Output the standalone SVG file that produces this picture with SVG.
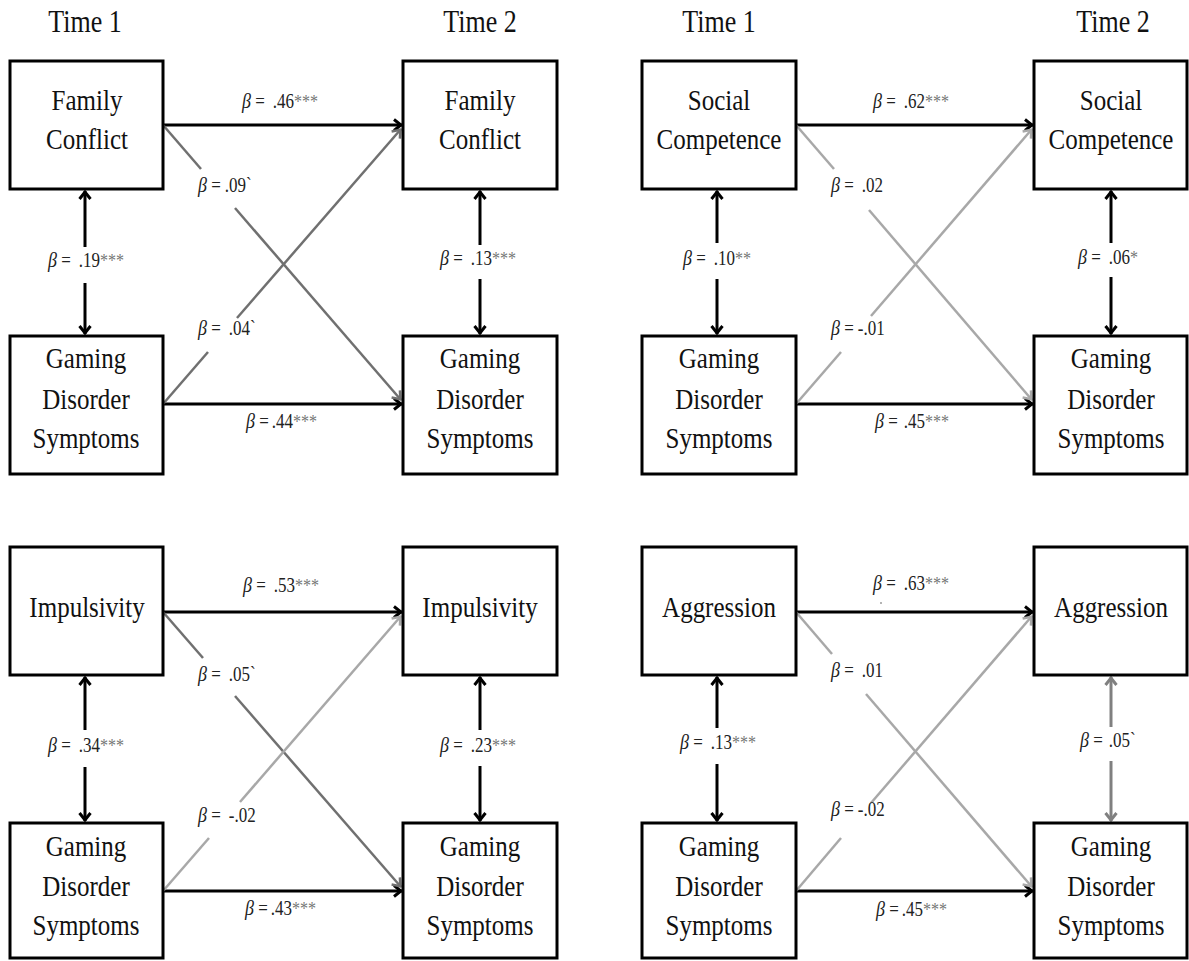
<svg xmlns="http://www.w3.org/2000/svg" width="1189" height="961" viewBox="0 0 1189 961">
  <style>
    .box { fill: #fff; stroke: #000; stroke-width: 3; }
    .nt { font-family: "Liberation Serif", "Times New Roman", serif; font-size: 25px; fill: #111; text-anchor: middle; }
    .hd { font-family: "Liberation Serif", "Times New Roman", serif; font-size: 26px; fill: #111; text-anchor: middle; }
    .lbl { font-family: "Liberation Serif", "Times New Roman", serif; font-size: 17px; fill: #222; }
    .b { font-style: italic; font-size: 18px; }
    .st { fill: #777; font-size: 16px; }
    .arr { stroke: #000; stroke-width: 3; fill: none; marker-end: url(#ah); }
    .seg { stroke-width: 2.5; fill: none; }
    .dk { stroke: #707070; }
    .lt { stroke: #a8a8a8; }
    .dk.end { marker-end: url(#ahd); }
    .lt.end { marker-end: url(#ahl); }
    .mid { stroke: #808080; stroke-width: 3; fill: none; marker-end: url(#ahm); }
  </style>
  <defs>
    <marker id="ah" viewBox="0 0 12 14" refX="11" refY="7" markerWidth="12" markerHeight="14" markerUnits="userSpaceOnUse" orient="auto">
      <path d="M3,1.5 L10,7 L3,12.5" fill="none" stroke="#000" stroke-width="3"/>
    </marker>
    <marker id="ahd" viewBox="0 0 12 14" refX="11" refY="7" markerWidth="12" markerHeight="14" markerUnits="userSpaceOnUse" orient="auto">
      <path d="M3,1.5 L10,7 L3,12.5" fill="none" stroke="#707070" stroke-width="2.5"/>
    </marker>
    <marker id="ahl" viewBox="0 0 12 14" refX="11" refY="7" markerWidth="12" markerHeight="14" markerUnits="userSpaceOnUse" orient="auto">
      <path d="M3,1.5 L10,7 L3,12.5" fill="none" stroke="#a8a8a8" stroke-width="2.5"/>
    </marker>
    <marker id="ahm" viewBox="0 0 12 14" refX="11" refY="7" markerWidth="12" markerHeight="14" markerUnits="userSpaceOnUse" orient="auto">
      <path d="M3,1.5 L10,7 L3,12.5" fill="none" stroke="#808080" stroke-width="3"/>
    </marker>
  </defs>

  <rect width="1189" height="961" fill="#fff"/>

  <!-- column headings -->
  <g id="headings">
    <text class="hd" transform="matrix(1 0 0 1.2 85 32)">Time 1</text>
    <text class="hd" transform="matrix(1 0 0 1.2 480 32)">Time 2</text>
    <text class="hd" transform="matrix(1 0 0 1.2 719 32)">Time 1</text>
    <text class="hd" transform="matrix(1 0 0 1.2 1113 32)">Time 2</text>
  </g>

  <!-- connectors -->
  <g id="connectors">
    <!-- family conflict panel -->
    <line class="arr" x1="163" y1="125" x2="402" y2="125"/>
    <line class="arr" x1="163" y1="404" x2="402" y2="404"/>
    <line class="seg dk" x1="163" y1="125" x2="201" y2="169"/>
    <line class="seg dk end" x1="235" y1="208" x2="401" y2="400"/>
    <line class="seg dk" x1="163" y1="404" x2="208" y2="352"/>
    <line class="seg dk end" x1="237" y1="318" x2="401" y2="129"/>
    <line class="arr" x1="85" y1="247" x2="85" y2="191"/>
    <line class="arr" x1="85" y1="283" x2="85" y2="334"/>
    <line class="arr" x1="480" y1="245" x2="480" y2="191"/>
    <line class="arr" x1="480" y1="279" x2="480" y2="334"/>

    <!-- social competence panel -->
    <line class="arr" x1="796" y1="125" x2="1033" y2="125"/>
    <line class="arr" x1="796" y1="404" x2="1033" y2="404"/>
    <line class="seg lt" x1="796" y1="125" x2="834" y2="169"/>
    <line class="seg lt end" x1="869" y1="210" x2="1032" y2="400"/>
    <line class="seg lt" x1="796" y1="404" x2="841" y2="352"/>
    <line class="seg lt end" x1="871" y1="316" x2="1032" y2="129"/>
    <line class="arr" x1="717" y1="243" x2="717" y2="191"/>
    <line class="arr" x1="717" y1="279" x2="717" y2="334"/>
    <line class="arr" x1="1111" y1="243" x2="1111" y2="191"/>
    <line class="arr" x1="1111" y1="277" x2="1111" y2="334"/>

    <!-- impulsivity panel -->
    <line class="arr" x1="163" y1="612" x2="402" y2="612"/>
    <line class="arr" x1="163" y1="891" x2="402" y2="891"/>
    <line class="seg dk" x1="163" y1="612" x2="203" y2="658"/>
    <line class="seg dk end" x1="235" y1="696" x2="401" y2="887"/>
    <line class="seg lt" x1="163" y1="891" x2="209" y2="838"/>
    <line class="seg lt end" x1="240" y1="802" x2="401" y2="616"/>
    <line class="arr" x1="85" y1="730" x2="85" y2="677"/>
    <line class="arr" x1="85" y1="767" x2="85" y2="821"/>
    <line class="arr" x1="480" y1="730" x2="480" y2="677"/>
    <line class="arr" x1="480" y1="766" x2="480" y2="821"/>

    <!-- aggression panel -->
    <line class="arr" x1="796" y1="612" x2="1033" y2="612"/>
    <line class="arr" x1="796" y1="891" x2="1033" y2="891"/>
    <line class="seg lt" x1="796" y1="612" x2="832" y2="654"/>
    <line class="seg lt end" x1="866" y1="694" x2="1032" y2="887"/>
    <line class="seg lt" x1="796" y1="891" x2="841" y2="838"/>
    <line class="seg lt end" x1="871" y1="803" x2="1032" y2="616"/>
    <line class="arr" x1="717" y1="728" x2="717" y2="677"/>
    <line class="arr" x1="717" y1="764" x2="717" y2="821"/>
    <line class="mid" x1="1111" y1="727" x2="1111" y2="677"/>
    <line class="mid" x1="1111" y1="761" x2="1111" y2="821"/>
  </g>

  <!-- path coefficients -->
  <g id="labels">
    <text class="lbl" transform="matrix(1 0 0 1.2 242 108)"><tspan class="b">β</tspan> =<tspan dx="8">.46</tspan><tspan class="st">***</tspan></text>
    <text class="lbl" transform="matrix(1 0 0 1.2 198 192)"><tspan class="b">β</tspan> =<tspan dx="4">.09`</tspan></text>
    <text class="lbl" transform="matrix(1 0 0 1.2 198 335)"><tspan class="b">β</tspan> =<tspan dx="8">.04`</tspan></text>
    <text class="lbl" transform="matrix(1 0 0 1.2 246 428)"><tspan class="b">β</tspan> =<tspan dx="3">.44</tspan><tspan class="st">***</tspan></text>
    <text class="lbl" transform="matrix(1 0 0 1.2 48 267)"><tspan class="b">β</tspan> =<tspan dx="8">.19</tspan><tspan class="st">***</tspan></text>
    <text class="lbl" transform="matrix(1 0 0 1.2 440 265)"><tspan class="b">β</tspan> =<tspan dx="8">.13</tspan><tspan class="st">***</tspan></text>

    <text class="lbl" transform="matrix(1 0 0 1.2 873 108)"><tspan class="b">β</tspan> =<tspan dx="8">.62</tspan><tspan class="st">***</tspan></text>
    <text class="lbl" transform="matrix(1 0 0 1.2 831 192)"><tspan class="b">β</tspan> =<tspan dx="8">.02</tspan></text>
    <text class="lbl" transform="matrix(1 0 0 1.2 831 335)"><tspan class="b">β</tspan> =<tspan dx="4">-.01</tspan></text>
    <text class="lbl" transform="matrix(1 0 0 1.2 875 428)"><tspan class="b">β</tspan> =<tspan dx="6">.45</tspan><tspan class="st">***</tspan></text>
    <text class="lbl" transform="matrix(1 0 0 1.2 683 265)"><tspan class="b">β</tspan> =<tspan dx="8">.10</tspan><tspan class="st">**</tspan></text>
    <text class="lbl" transform="matrix(1 0 0 1.2 1078 264)"><tspan class="b">β</tspan> =<tspan dx="8">.06</tspan><tspan class="st">*</tspan></text>

    <text class="lbl" transform="matrix(1 0 0 1.2 243 592)"><tspan class="b">β</tspan> =<tspan dx="8">.53</tspan><tspan class="st">***</tspan></text>
    <text class="lbl" transform="matrix(1 0 0 1.2 198 681)"><tspan class="b">β</tspan> =<tspan dx="8">.05`</tspan></text>
    <text class="lbl" transform="matrix(1 0 0 1.2 198 822)"><tspan class="b">β</tspan> =<tspan dx="8">-.02</tspan></text>
    <text class="lbl" transform="matrix(1 0 0 1.2 245 915)"><tspan class="b">β</tspan> =<tspan dx="3">.43</tspan><tspan class="st">***</tspan></text>
    <text class="lbl" transform="matrix(1 0 0 1.2 48 752)"><tspan class="b">β</tspan> =<tspan dx="8">.34</tspan><tspan class="st">***</tspan></text>
    <text class="lbl" transform="matrix(1 0 0 1.2 440 752)"><tspan class="b">β</tspan> =<tspan dx="8">.23</tspan><tspan class="st">***</tspan></text>

    <text class="lbl" transform="matrix(1 0 0 1.2 873 590)"><tspan class="b">β</tspan> =<tspan dx="8">.63</tspan><tspan class="st">***</tspan></text>
    <circle cx="881" cy="603" r="0.8" fill="#555"/>
    <text class="lbl" transform="matrix(1 0 0 1.2 831 677)"><tspan class="b">β</tspan> =<tspan dx="8">.01</tspan></text>
    <text class="lbl" transform="matrix(1 0 0 1.2 831 816)"><tspan class="b">β</tspan> =<tspan dx="4">-.02</tspan></text>
    <text class="lbl" transform="matrix(1 0 0 1.2 876 916)"><tspan class="b">β</tspan> =<tspan dx="3">.45</tspan><tspan class="st">***</tspan></text>
    <text class="lbl" transform="matrix(1 0 0 1.2 680 749)"><tspan class="b">β</tspan> =<tspan dx="8">.13</tspan><tspan class="st">***</tspan></text>
    <text class="lbl" transform="matrix(1 0 0 1.2 1080 747)"><tspan class="b">β</tspan> =<tspan dx="6">.05`</tspan></text>
  </g>

  <!-- family conflict panel nodes -->
  <g id="fc-t1">
    <rect class="box" x="10" y="61" width="153" height="128"/>
    <text class="nt" transform="matrix(1 0 0 1.2 87 110)">Family</text>
    <text class="nt" transform="matrix(1 0 0 1.2 87 149)">Conflict</text>
  </g>
  <g id="gd-fc-t1">
    <rect class="box" x="10" y="336" width="153" height="138"/>
    <text class="nt" transform="matrix(1 0 0 1.2 86 368)">Gaming</text>
    <text class="nt" transform="matrix(1 0 0 1.2 86 409)">Disorder</text>
    <text class="nt" transform="matrix(1 0 0 1.2 86 448)">Symptoms</text>
  </g>
  <g id="fc-t2">
    <rect class="box" x="403" y="61" width="154" height="128"/>
    <text class="nt" transform="matrix(1 0 0 1.2 480 110)">Family</text>
    <text class="nt" transform="matrix(1 0 0 1.2 480 149)">Conflict</text>
  </g>
  <g id="gd-fc-t2">
    <rect class="box" x="403" y="336" width="154" height="138"/>
    <text class="nt" transform="matrix(1 0 0 1.2 480 368)">Gaming</text>
    <text class="nt" transform="matrix(1 0 0 1.2 480 409)">Disorder</text>
    <text class="nt" transform="matrix(1 0 0 1.2 480 448)">Symptoms</text>
  </g>

  <!-- social competence panel nodes -->
  <g id="sc-t1">
    <rect class="box" x="642" y="61" width="154" height="128"/>
    <text class="nt" transform="matrix(1 0 0 1.2 719 110)">Social</text>
    <text class="nt" transform="matrix(1 0 0 1.2 719 149)">Competence</text>
  </g>
  <g id="gd-sc-t1">
    <rect class="box" x="642" y="336" width="154" height="138"/>
    <text class="nt" transform="matrix(1 0 0 1.2 719 368)">Gaming</text>
    <text class="nt" transform="matrix(1 0 0 1.2 719 409)">Disorder</text>
    <text class="nt" transform="matrix(1 0 0 1.2 719 448)">Symptoms</text>
  </g>
  <g id="sc-t2">
    <rect class="box" x="1034" y="61" width="153" height="128"/>
    <text class="nt" transform="matrix(1 0 0 1.2 1111 110)">Social</text>
    <text class="nt" transform="matrix(1 0 0 1.2 1111 149)">Competence</text>
  </g>
  <g id="gd-sc-t2">
    <rect class="box" x="1034" y="336" width="153" height="138"/>
    <text class="nt" transform="matrix(1 0 0 1.2 1111 368)">Gaming</text>
    <text class="nt" transform="matrix(1 0 0 1.2 1111 409)">Disorder</text>
    <text class="nt" transform="matrix(1 0 0 1.2 1111 448)">Symptoms</text>
  </g>

  <!-- impulsivity panel nodes -->
  <g id="im-t1">
    <rect class="box" x="10" y="547" width="153" height="128"/>
    <text class="nt" transform="matrix(1 0 0 1.2 87 617)">Impulsivity</text>
  </g>
  <g id="gd-im-t1">
    <rect class="box" x="10" y="823" width="153" height="135"/>
    <text class="nt" transform="matrix(1 0 0 1.2 86 856)">Gaming</text>
    <text class="nt" transform="matrix(1 0 0 1.2 86 896)">Disorder</text>
    <text class="nt" transform="matrix(1 0 0 1.2 86 935)">Symptoms</text>
  </g>
  <g id="im-t2">
    <rect class="box" x="403" y="547" width="154" height="128"/>
    <text class="nt" transform="matrix(1 0 0 1.2 480 617)">Impulsivity</text>
  </g>
  <g id="gd-im-t2">
    <rect class="box" x="403" y="823" width="154" height="135"/>
    <text class="nt" transform="matrix(1 0 0 1.2 480 856)">Gaming</text>
    <text class="nt" transform="matrix(1 0 0 1.2 480 896)">Disorder</text>
    <text class="nt" transform="matrix(1 0 0 1.2 480 935)">Symptoms</text>
  </g>

  <!-- aggression panel nodes -->
  <g id="ag-t1">
    <rect class="box" x="642" y="547" width="154" height="128"/>
    <text class="nt" transform="matrix(1 0 0 1.2 719 617)">Aggression</text>
  </g>
  <g id="gd-ag-t1">
    <rect class="box" x="642" y="823" width="154" height="135"/>
    <text class="nt" transform="matrix(1 0 0 1.2 719 856)">Gaming</text>
    <text class="nt" transform="matrix(1 0 0 1.2 719 896)">Disorder</text>
    <text class="nt" transform="matrix(1 0 0 1.2 719 935)">Symptoms</text>
  </g>
  <g id="ag-t2">
    <rect class="box" x="1034" y="547" width="153" height="128"/>
    <text class="nt" transform="matrix(1 0 0 1.2 1111 617)">Aggression</text>
  </g>
  <g id="gd-ag-t2">
    <rect class="box" x="1034" y="823" width="153" height="135"/>
    <text class="nt" transform="matrix(1 0 0 1.2 1111 856)">Gaming</text>
    <text class="nt" transform="matrix(1 0 0 1.2 1111 896)">Disorder</text>
    <text class="nt" transform="matrix(1 0 0 1.2 1111 935)">Symptoms</text>
  </g>
</svg>
